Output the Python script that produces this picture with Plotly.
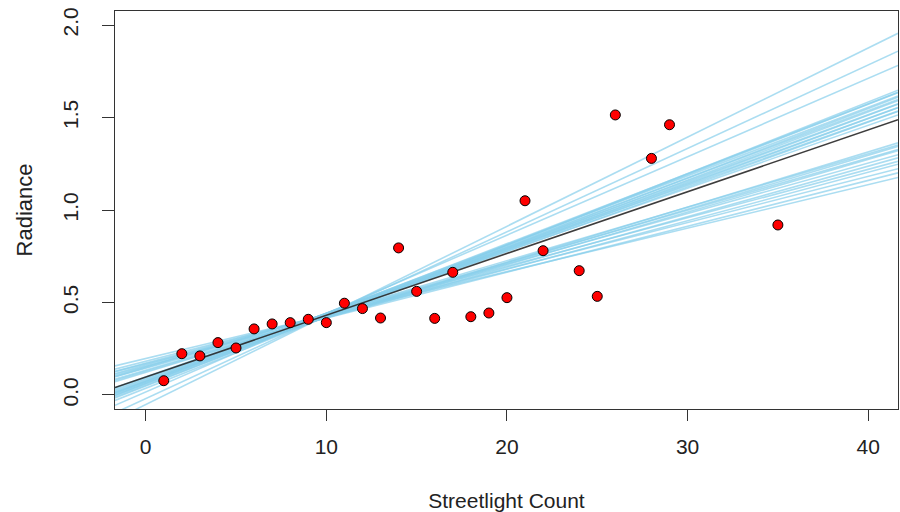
import plotly.graph_objects as go

# Observations: streetlight count vs. night-time radiance
streetlights = [1, 2, 3, 4, 5, 6, 7, 8, 9, 10, 11, 12, 13, 14, 15, 16, 17, 18, 19, 20,
                21, 22, 24, 25, 26, 28, 29, 35]
radiance = [0.077, 0.223, 0.211, 0.283, 0.254, 0.357, 0.384, 0.391, 0.409, 0.391,
            0.496, 0.467, 0.416, 0.795, 0.560, 0.414, 0.663, 0.423, 0.443, 0.526,
            1.050, 0.780, 0.672, 0.533, 1.514, 1.279, 1.461, 0.919]

# Main regression line
fit_intercept = 0.097
fit_slope = 0.0334

# Resampled regression lines
boot_intercept = [-0.052, -0.020, 0.016, 0.036, 0.062, 0.048, 0.071, 0.052, 0.077, 0.058,
                  0.083, 0.064, 0.088, 0.070, 0.094, 0.075, 0.098, 0.122, 0.148, 0.128,
                  0.153, 0.134, 0.162, 0.145, 0.172, 0.156, 0.182, 0.168, 0.197]
boot_slope = [0.0482, 0.0451, 0.0424, 0.0387, 0.0378, 0.0381, 0.0371, 0.0374, 0.0365, 0.0368,
              0.0358, 0.0362, 0.0352, 0.0356, 0.0346, 0.0350, 0.0340, 0.0298, 0.0289, 0.0292,
              0.0282, 0.0285, 0.0273, 0.0273, 0.0262, 0.0262, 0.0250, 0.0248, 0.0235]

x_ticks = [0, 10, 20, 30, 40]
y_ticks = [0.0, 0.5, 1.0, 1.5, 2.0]
y_tick_text = ["0.0", "0.5", "1.0", "1.5", "2.0"]

x_range = [-1.7, 41.65]
y_range = [-0.076, 2.076]

FONT = "Liberation Sans, Arial, sans-serif"

fig = go.Figure()

# resampled lines as one trace, separated by gaps
bx, by = [], []
for a, b in zip(boot_intercept, boot_slope):
    bx += [x_range[0], x_range[1], None]
    by += [a + b * x_range[0], a + b * x_range[1], None]
fig.add_trace(go.Scatter(x=bx, y=by, mode="lines",
                         line=dict(color="rgba(135,206,235,0.7)", width=1.6),
                         hoverinfo="skip", showlegend=False))

fig.add_trace(go.Scatter(
    x=x_range,
    y=[fit_intercept + fit_slope * x for x in x_range],
    mode="lines", line=dict(color="rgba(40,40,40,0.9)", width=1.6),
    hoverinfo="skip", showlegend=False))

fig.add_trace(go.Scatter(
    x=streetlights, y=radiance, mode="markers",
    marker=dict(size=10, color="#ff0000", line=dict(color="#000000", width=1)),
    showlegend=False))

fig.update_layout(
    width=900, height=512,
    margin=dict(l=115, r=2, t=11, b=103),
    paper_bgcolor="white", plot_bgcolor="white",
    font=dict(family=FONT, color="#222222", size=21),
    xaxis=dict(
        range=x_range, tickmode="array", tickvals=x_ticks,
        ticks="outside", ticklen=11, tickwidth=1, tickcolor="#333333",
        showline=True, linecolor="#333333", linewidth=1.3, mirror=True,
        showgrid=False, zeroline=False,
        tickfont=dict(size=21), ticklabelstandoff=8,
        title=dict(text="Streetlight Count", font=dict(size=21), standoff=35),
    ),
    yaxis=dict(
        range=y_range, tickmode="array", tickvals=y_ticks, ticktext=y_tick_text,
        ticks="outside", ticklen=12, tickwidth=1, tickcolor="#333333",
        showline=True, linecolor="#333333", linewidth=1.3, mirror=True,
        showgrid=False, zeroline=False, tickangle=-90,
        tickfont=dict(size=21), ticklabelstandoff=15,
        title=dict(text="Radiance", font=dict(size=22), standoff=20),
    ),
)

fig.write_html("out.html")
